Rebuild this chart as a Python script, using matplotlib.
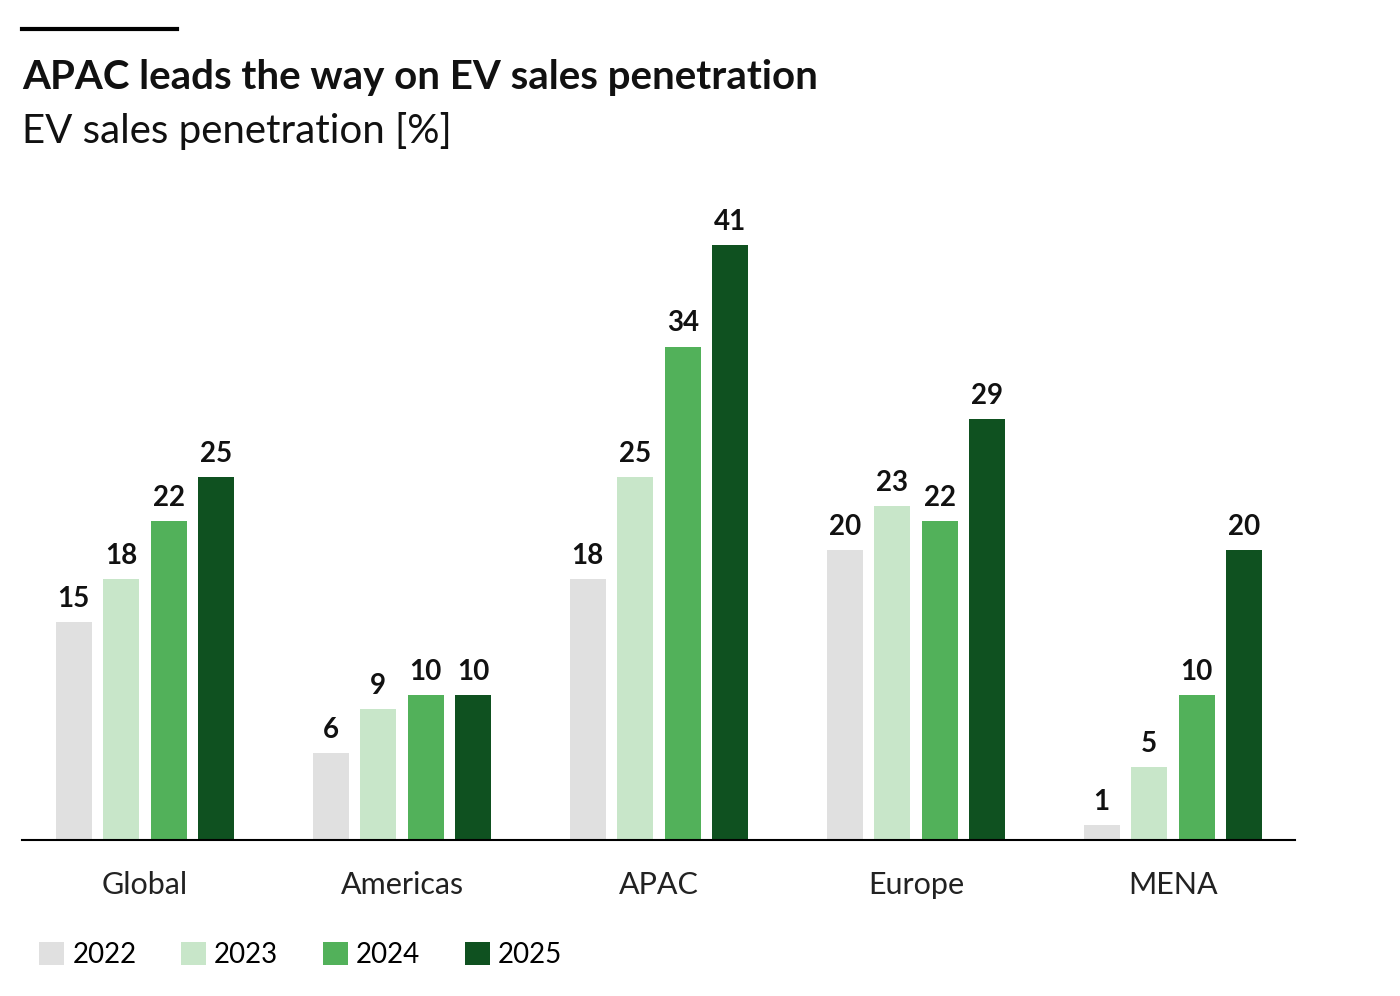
import matplotlib
matplotlib.use("Agg")
import matplotlib.pyplot as plt
from matplotlib.patches import Patch
from matplotlib.lines import Line2D

regions = ["Global", "Americas", "APAC", "Europe", "MENA"]
years = ["2022", "2023", "2024", "2025"]
v2022 = [15, 6, 18, 20, 1]
v2023 = [18, 9, 25, 23, 5]
v2024 = [22, 10, 34, 22, 10]
v2025 = [25, 10, 41, 29, 20]
series = [v2022, v2023, v2024, v2025]
colors = ["#e0e0e0", "#c8e6c9", "#52b15a", "#0f5120"]

plt.rcParams["font.family"] = ["Lato", "DejaVu Sans"]
W, H = 1400, 996
fig = plt.figure(figsize=(W/100, H/100), dpi=100)
ax = fig.add_axes([22/W, 1-840/H, (1295-22)/W, (840-200)/H])
step = 0.185
width = 0.14
for i, (vals, c) in enumerate(zip(series, colors)):
    xs = [j + (i-1.5)*step for j in range(len(regions))]
    ax.bar(xs, vals, width=width, color=c)
    for x, v in zip(xs, vals):
        ax.text(x, v + 0.7, str(v), ha="center", va="bottom", fontsize=20, fontweight="bold", color="#111111")
ax.set_xlim(-0.479, 4.475)
ax.set_ylim(0, 44.1)
for s in ["top", "right", "left"]:
    ax.spines[s].set_visible(False)
ax.spines["bottom"].set_linewidth(1.5)
ax.set_yticks([])
ax.set_xticks(range(len(regions)))
ax.set_xticklabels(regions, fontsize=22, color="#222222")
ax.tick_params(axis="x", length=0, pad=22)

fig.add_artist(Line2D([22/W, 177/W], [1-29/H, 1-29/H], color="black", lw=3))
fig.text(22/W, 1-77/H, "APAC leads the way on EV sales penetration", fontsize=29, fontweight="bold", va="center", color="#111111")
fig.text(22/W, 1-131/H, "EV sales penetration [%]", fontsize=29, va="center", color="#111111")

handles = [Patch(facecolor=c) for c in colors]
fig.legend(handles, years, loc="center left", bbox_to_anchor=(14/W, 1-955/H), ncol=4, frameon=False,
           fontsize=20, handlelength=0.9, handleheight=0.9, handletextpad=0.3, columnspacing=1.6)
fig.savefig("out.png", dpi=100)
